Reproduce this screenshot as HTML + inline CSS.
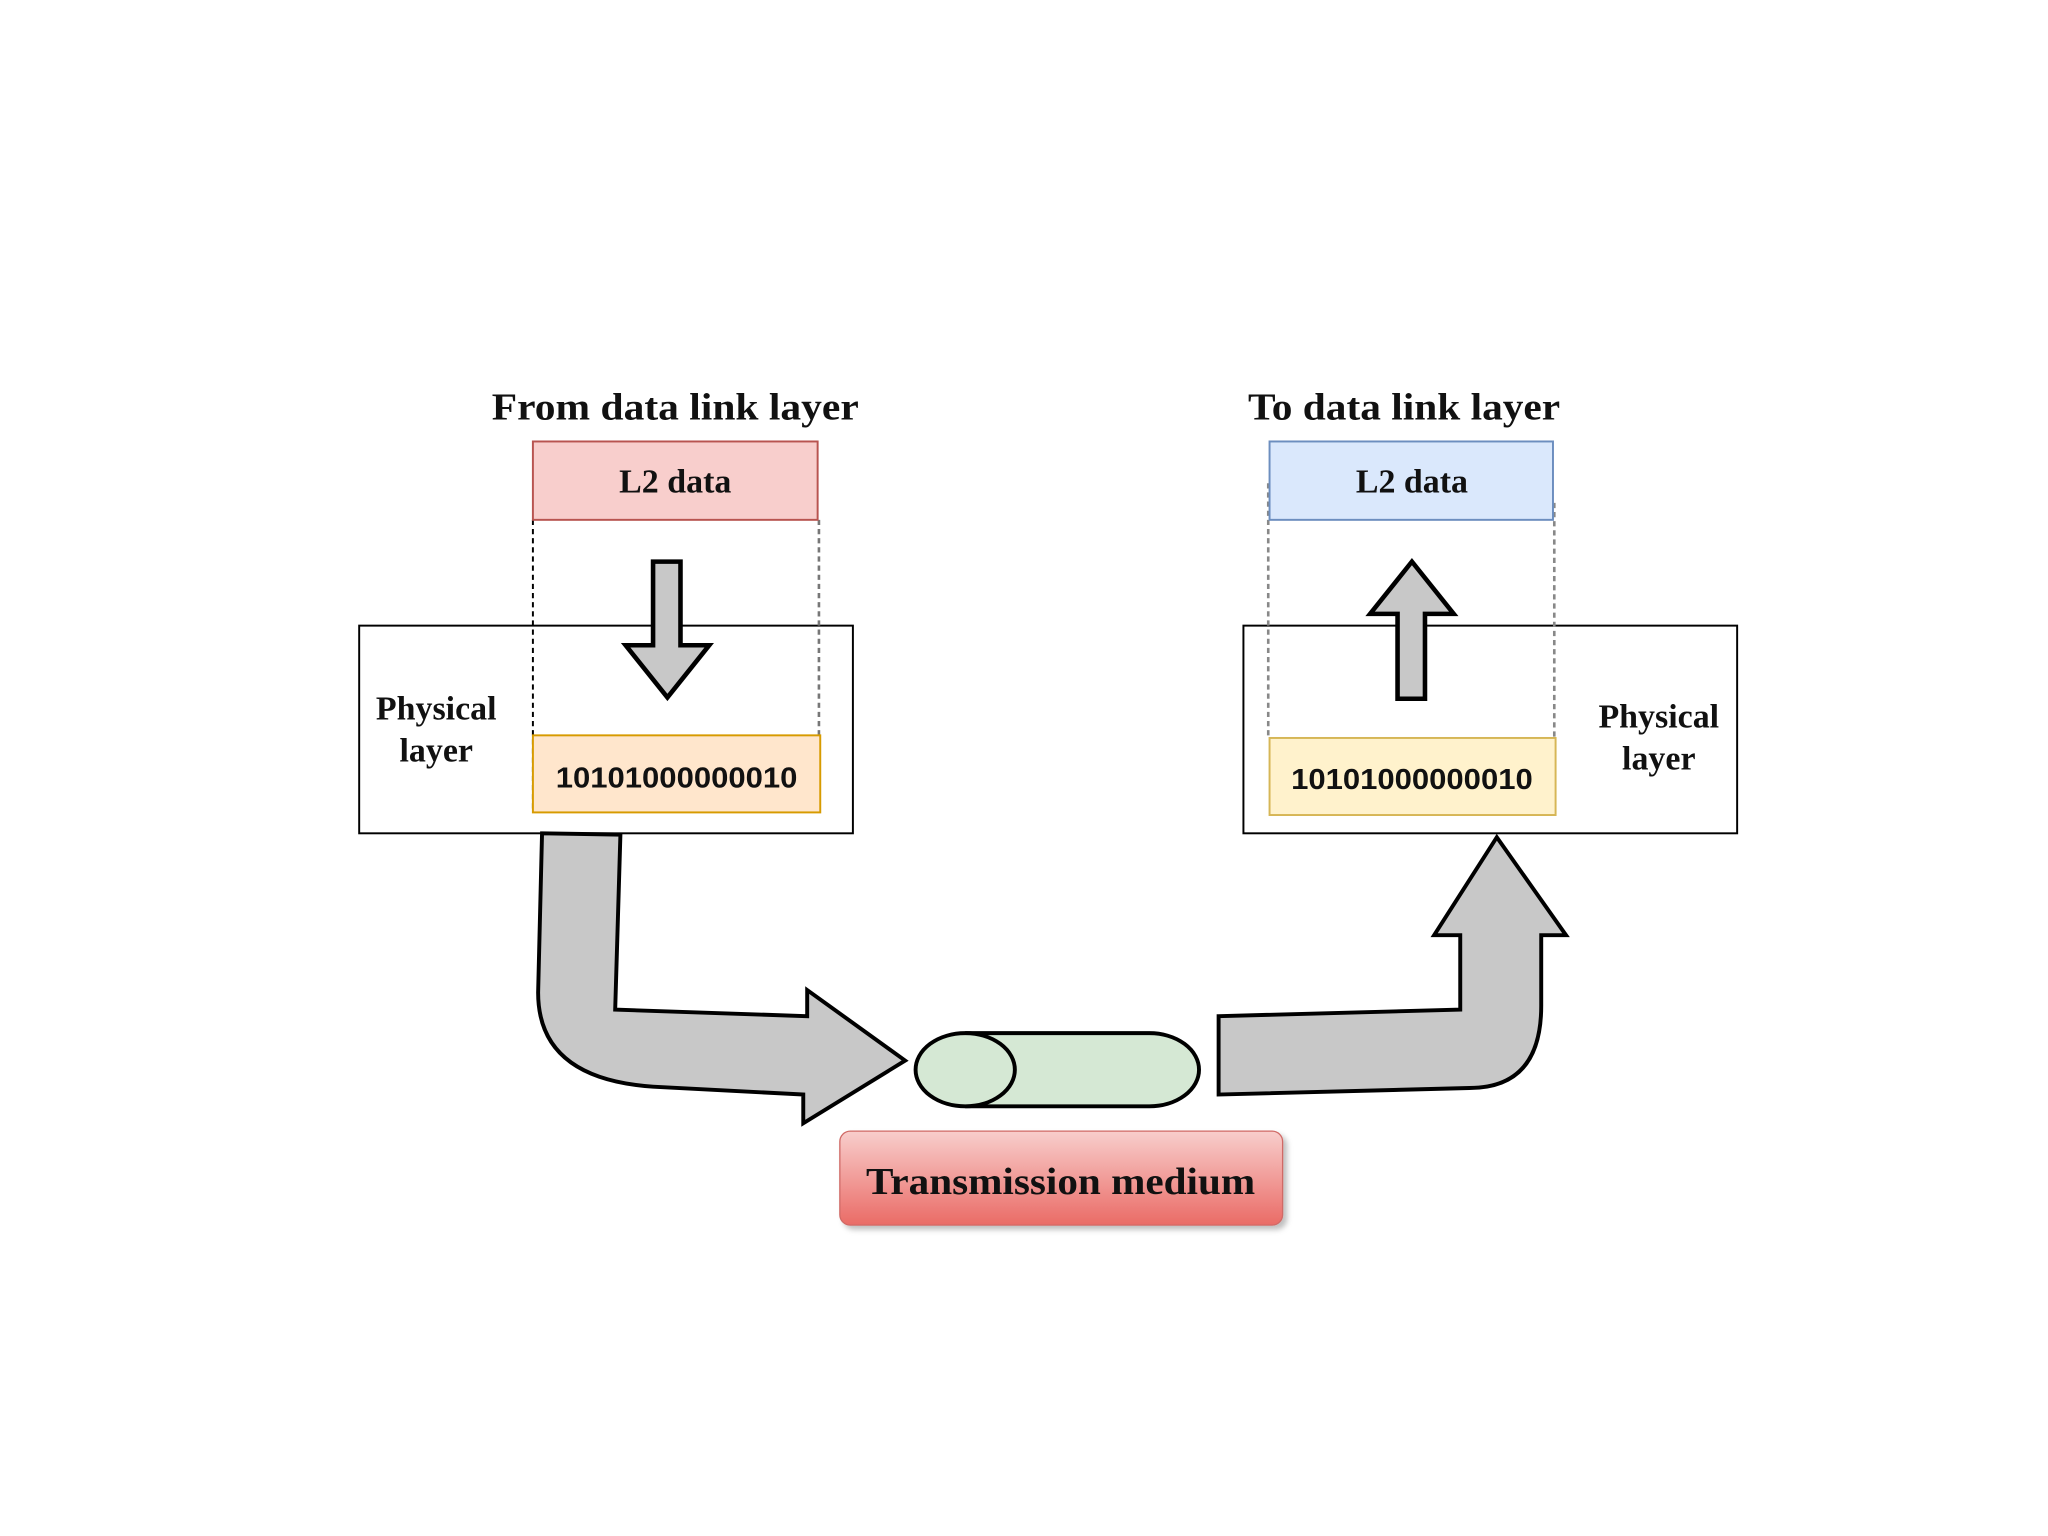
<!DOCTYPE html>
<html><head><meta charset="utf-8"><style>
html,body{margin:0;padding:0;background:#fff;}
svg{display:block;}
.t{font-family:"Liberation Serif",serif;font-weight:bold;fill:#111;}
.b{font-family:"Liberation Sans",sans-serif;font-weight:bold;fill:#111;}
</style></head><body>
<svg width="2048" height="1536" viewBox="0 0 1568 1176" xmlns="http://www.w3.org/2000/svg">
<defs>
<linearGradient id="g" x1="0" y1="0" x2="0" y2="1"><stop offset="0" stop-color="#f8cecc"/><stop offset="1" stop-color="#ea6b66"/></linearGradient>
<filter id="sh" x="-10%" y="-10%" width="130%" height="140%"><feDropShadow dx="3" dy="3" stdDeviation="2" flood-color="#000" flood-opacity="0.25"/></filter>
</defs>
<rect width="1568" height="1176" fill="#fff"/>
<text class="t" x="517" y="321" font-size="29" text-anchor="middle" textLength="281" lengthAdjust="spacingAndGlyphs">From data link layer</text>
<text class="t" x="1075" y="321" font-size="29" text-anchor="middle" textLength="239" lengthAdjust="spacingAndGlyphs">To data link layer</text>
<!-- physical boxes -->
<rect x="275" y="479" width="378" height="159" fill="#fff" stroke="#000" stroke-width="1.5"/>
<rect x="952" y="479" width="378" height="159" fill="#fff" stroke="#000" stroke-width="1.5"/>
<text class="t" x="334" y="551" font-size="26" text-anchor="middle">Physical</text>
<text class="t" x="334" y="583" font-size="26" text-anchor="middle">layer</text>
<text class="t" x="1270" y="557" font-size="26" text-anchor="middle">Physical</text>
<text class="t" x="1270" y="589" font-size="26" text-anchor="middle">layer</text>
<!-- dashed -->
<line x1="408" y1="398" x2="408" y2="622" stroke="#000" stroke-width="1.5" stroke-dasharray="4 3"/>
<line x1="627" y1="398" x2="627" y2="622" stroke="#777" stroke-width="2" stroke-dasharray="4 3"/>
<line x1="971" y1="370" x2="971" y2="565" stroke="#888" stroke-width="2" stroke-dasharray="4 3"/>
<line x1="1190" y1="385" x2="1190" y2="580" stroke="#888" stroke-width="2" stroke-dasharray="4 3"/>
<!-- L2 boxes -->
<rect x="408" y="338" width="218" height="60" fill="#f8cecc" stroke="#b85450" stroke-width="1.5"/>
<text class="t" x="517" y="377" font-size="26" text-anchor="middle">L2 data</text>
<rect x="972" y="338" width="217" height="60" fill="#dae8fc" stroke="#6c8ebf" stroke-width="1.5"/>
<text class="t" x="1081" y="377" font-size="26" text-anchor="middle">L2 data</text>
<!-- bits -->
<rect x="408" y="563" width="220" height="59" fill="#ffe6cc" stroke="#d79b00" stroke-width="1.5"/>
<text class="b" x="518" y="603" font-size="22" text-anchor="middle" textLength="185" lengthAdjust="spacingAndGlyphs">10101000000010</text>
<rect x="972" y="565" width="219" height="59" fill="#fff2cc" stroke="#d6b656" stroke-width="1.5"/>
<text class="b" x="1081" y="604" font-size="22" text-anchor="middle" textLength="185" lengthAdjust="spacingAndGlyphs">10101000000010</text>
<!-- small arrows -->
<path d="M500,430 H521 V494 H543 L511,534 L479,494 H500 Z" fill="#c8c8c8" stroke="#000" stroke-width="3.5" stroke-linejoin="miter"/>
<path d="M1070,535 V470 H1049 L1081,430 L1113,470 H1091 V535 Z" fill="#c8c8c8" stroke="#000" stroke-width="3.5"/>
<!-- big arrows -->
<path d="M415,638 L475,639 L471,773 L618,778 L618,758 L693,812 L615,860 L615,838 L500,832 Q412,826 412,760 Z" fill="#c8c8c8" stroke="#000" stroke-width="3"/>
<path d="M933,778 L1118,773 L1118,716 L1098,716 L1146,641 L1199,716 L1180,716 L1180,770 Q1180,833 1125,833 L933,838 Z" fill="#c8c8c8" stroke="#000" stroke-width="3"/>
<!-- cylinder -->
<path d="M739,791 H880 A38,28 0 0 1 880,847 H739" fill="#d5e8d4" stroke="#000" stroke-width="3"/>
<ellipse cx="739" cy="819" rx="38" ry="28" fill="#d5e8d4" stroke="#000" stroke-width="3"/>
<!-- transmission -->
<rect x="643" y="866" width="339" height="72" rx="8" fill="url(#g)" stroke="#d06a66" stroke-width="1" filter="url(#sh)"/>
<text class="t" x="812" y="914" font-size="29" text-anchor="middle" textLength="298" lengthAdjust="spacingAndGlyphs">Transmission medium</text>
</svg>
</body></html>
